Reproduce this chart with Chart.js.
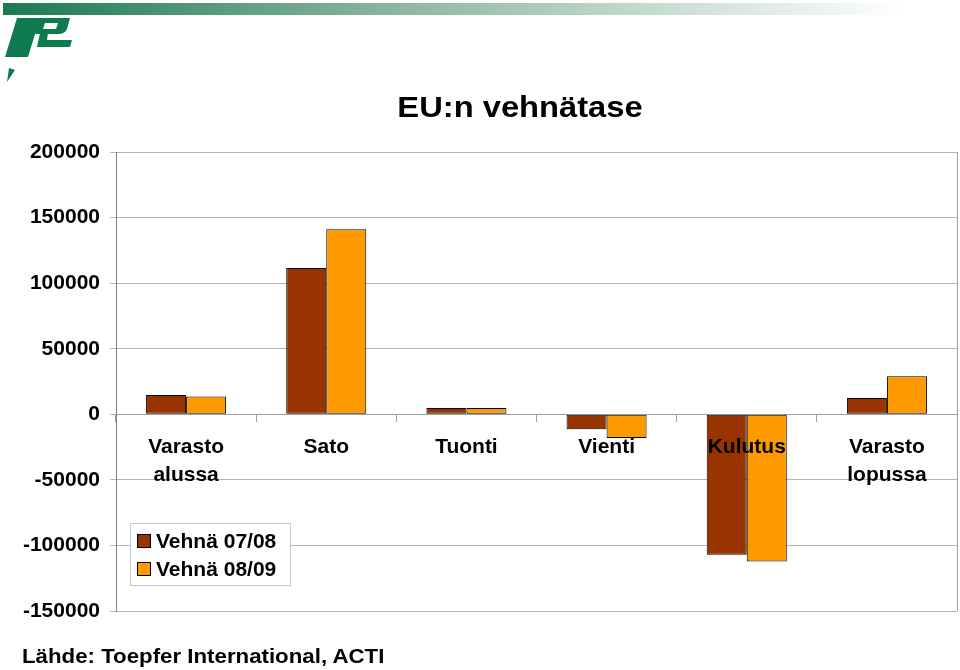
<!DOCTYPE html>
<html>
<head>
<meta charset="utf-8">
<script src="https://cdn.jsdelivr.net/npm/chart.js@4.4.0/dist/chart.umd.min.js"></script>
<style>
    body { margin: 0; background: #fff; }
    #wrap { position: relative; width: 960px; height: 670px; overflow: hidden; }
    #chart { position: absolute; left: 0; top: 0; }
    #logo { position: absolute; left: 0; top: 0; }
    #title { position: absolute; left: 320px; width: 400px; top: 90px; text-align: center;
        font: bold 30px "Liberation Sans", Arial, sans-serif; color: #000;
        transform: scaleX(1.09); transform-origin: 200px 0; }
    #source { position: absolute; left: 22px; top: 644px; white-space: nowrap;
        font: bold 21px "Liberation Sans", Arial, sans-serif; color: #000;
        transform: scaleX(1.06); transform-origin: 0 0; }
</style>
</head>
<body>
<div id="wrap">
    <canvas id="chart" width="960" height="670"></canvas>
    <svg id="logo" width="960" height="90">
        <defs>
            <linearGradient id="bar" x1="0" x2="1" y1="0" y2="0">
                <stop offset="0" stop-color="#1b7a52"/>
                <stop offset="0.45" stop-color="#8fb8a3"/>
                <stop offset="1" stop-color="#ffffff"/>
            </linearGradient>
        </defs>
        <rect x="3" y="3" width="900" height="12" fill="url(#bar)"/>
        <g fill="#0f7a50">
            <path d="M17 18 L40 18 L28 57 L5 57 Z"/>
            <path fill-rule="evenodd" d="M38 18 L70 18 L67 29 Q65 34 58 34 L35 34 Z M45 23 L58 23 L56 29 L43 29 Z"/>
            <path d="M40 33 L48 33 L47 40 L72 40 L70 47 L37 47 Z"/>
            <path d="M9 68 L15 70 L7 82 Z"/>
        </g>
    </svg>
    <div id="title">EU:n vehnätase</div>
    <div id="source">Lähde: Toepfer International, ACTI</div>
</div>
<script>
// EU wheat balance, 1000 t
const categories = [["Varasto", "alussa"], "Sato", "Tuonti", "Vienti", "Kulutus", ["Varasto", "lopussa"]];
const wheat0708 = [14700, 111500, 4800, -11400, -107100, 12500];
const wheat0809 = [13500, 141000, 4700, -18000, -112200, 29000];
const yTicks = [-150000, -100000, -50000, 0, 50000, 100000, 150000, 200000];
const seriesNames = ["Vehnä 07/08", "Vehnä 08/09"];
const seriesColors = ["#993300", "#ff9900"];

const font = "'Liberation Sans', Arial, sans-serif";

// Draws the right frame line and the boxed legend
const framePlugin = {
    id: "frame",
    afterDraw(chart) {
        const { ctx, chartArea } = chart;
        ctx.save();
        ctx.strokeStyle = "#a0a0a0";
        ctx.lineWidth = 1;
        ctx.beginPath();
        ctx.moveTo(chartArea.right + 0.5, chartArea.top);
        ctx.lineTo(chartArea.right + 0.5, chartArea.bottom);
        ctx.stroke();

        // legend box
        const lx = 130, ly = 523, lw = 160, lh = 62;
        ctx.fillStyle = "#fff";
        ctx.fillRect(lx, ly, lw, lh);
        ctx.strokeStyle = "#c8c8c8";
        ctx.strokeRect(lx + 0.5, ly + 0.5, lw, lh);
        ctx.font = "bold 21px " + font;
        ctx.textBaseline = "middle";
        chart.data.datasets.forEach((ds, i) => {
            const cy = ly + 18 + i * 28;
            ctx.fillStyle = ds.backgroundColor;
            ctx.fillRect(lx + 7, cy - 7, 14, 14);
            ctx.strokeStyle = "#000";
            ctx.strokeRect(lx + 7.5, cy - 6.5, 13, 13);
            ctx.fillStyle = "#000";
            ctx.fillText(ds.label, lx + 26, cy + 1);
        });
        ctx.restore();
    }
};

new Chart(document.getElementById("chart"), {
    type: "bar",
    data: {
        labels: categories,
        datasets: [
            { label: seriesNames[0], data: wheat0708, backgroundColor: seriesColors[0] },
            { label: seriesNames[1], data: wheat0809, backgroundColor: seriesColors[1] },
        ],
    },
    options: {
        responsive: false,
        animation: false,
        events: [],
        layout: { padding: { left: 0, top: 152, right: 3, bottom: 59 } },
        datasets: {
            bar: {
                borderColor: "#000",
                borderWidth: 1,
                borderSkipped: false,
                categoryPercentage: 0.571,
                barPercentage: 1,
            },
        },
        plugins: {
            legend: { display: false },
            tooltip: { enabled: false },
        },
        scales: {
            x: {
                position: { y: 0 },
                offset: true,
                grid: {
                    offset: true,
                    drawOnChartArea: false,
                    drawTicks: true,
                    tickLength: 7,
                    color: "#a0a0a0",
                },
                border: { color: "#a0a0a0" },
                ticks: {
                    z: 1,
                    color: "#000",
                    font: { family: font, size: 21, weight: "bold", lineHeight: 1.333 },
                    padding: 12,
                    maxRotation: 0,
                    autoSkip: false,
                },
            },
            y: {
                min: yTicks[0],
                max: yTicks[yTicks.length - 1],
                afterFit(scale) { scale.width = 116; },
                afterBuildTicks(scale) { scale.ticks = yTicks.map(v => ({ value: v })); },
                grid: {
                    color: "#b4b4b4",
                    tickLength: 6,
                },
                border: { color: "#808080" },
                ticks: {
                    color: "#000",
                    font: { family: font, size: 21, weight: "bold" },
                    padding: 10,
                    callback: v => String(v),
                },
            },
        },
    },
    plugins: [framePlugin],
});
</script>
</body>
</html>
